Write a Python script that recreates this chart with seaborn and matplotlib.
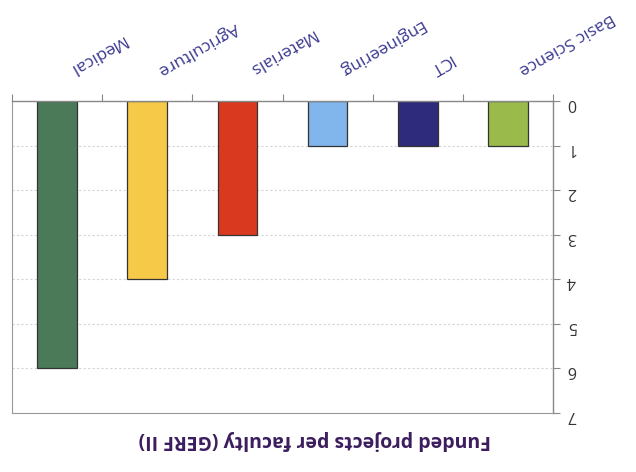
import matplotlib
matplotlib.use('Agg')
import matplotlib.pyplot as plt
import seaborn as sns
import pandas as pd
from matplotlib.transforms import ScaledTranslation

categories = ["Basic Science", "ICT", "Engineering", "Materials", "Agriculture", "Medical"]
values = [1, 1, 1, 3, 4, 6]
colors = ["#9bba4c", "#2f2b7c", "#80b6ec", "#d93a1f", "#f7c948", "#4b7a58"]
y_ticks = [0, 1, 2, 3, 4, 5, 6, 7]
title = "Funded projects per faculty (GERF II)"

sns.set_theme(style="white")
plt.rcParams['font.family'] = ['Open Sans', 'DejaVu Sans']

fig = plt.figure(figsize=(6.36, 4.72), dpi=100)
ax = fig.add_axes([12/636, 59/472, 541/636, 312/472])
df = pd.DataFrame({"faculty": categories, "projects": values})
sns.barplot(data=df, x="faculty", y="projects", hue="faculty", palette=colors,
            saturation=1, width=0.44, edgecolor="#333333", linewidth=0.9,
            legend=False, ax=ax)

ax.set_xlim(5.5, -0.5)
ax.set_ylim(7, 0)
ax.set_xlabel("")
ax.set_ylabel("")
ax.yaxis.tick_right()
ax.xaxis.tick_top()

ax.set_yticks(y_ticks)
ax.set_yticklabels([str(v) for v in y_ticks], rotation=180, fontsize=11.5, color="#333333")
ax.tick_params(axis='y', which='major', length=5, width=0.8, color="#888888", pad=5, direction='out')

ax.set_xticks(range(len(categories)))
ax.set_xticklabels(categories, rotation=210, ha='left', va='bottom', fontsize=12.5, color="#3c3a90")
ax.set_xticks([i - 0.5 for i in range(len(categories) + 1)], minor=True)
ax.tick_params(axis='x', which='major', length=0, pad=17)
ax.tick_params(axis='x', which='minor', length=5, width=0.8, color="#888888", direction='out', top=True, bottom=False)
for lab in ax.get_xticklabels():
    lab.set_transform(lab.get_transform() + ScaledTranslation(0.08, 0, fig.dpi_scale_trans))

ax.yaxis.grid(True, color="#d4d4d4", linestyle=(0, (2, 2)), linewidth=0.8)
ax.xaxis.grid(False)
ax.set_axisbelow(True)

ax.spines['right'].set_color("#888888")
ax.spines['right'].set_linewidth(1.0)
ax.spines['top'].set_color("#888888")
ax.spines['top'].set_linewidth(1.0)
for s in ['left', 'bottom']:
    ax.spines[s].set_color("#999999")
    ax.spines[s].set_linestyle((0, (2, 1)))
    ax.spines[s].set_linewidth(0.8)

fig.text(0.495, 0.068, title, rotation=180, ha='center', va='center',
         fontsize=14, fontweight='bold', color="#3b1d5e")

fig.savefig('out.png', dpi=100)
